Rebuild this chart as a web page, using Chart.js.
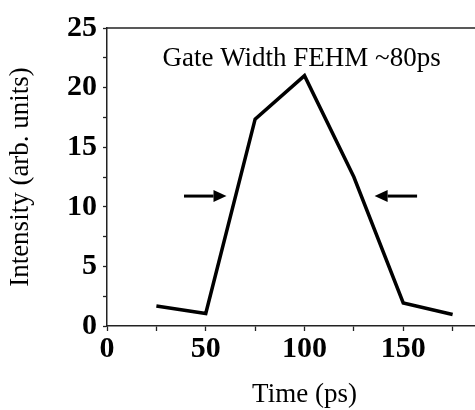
<!DOCTYPE html>
<html>
<head>
<meta charset="utf-8">
<script src="https://cdn.jsdelivr.net/npm/chart.js@4"></script>
<style>
    html, body { margin: 0; padding: 0; background: #fff; overflow: hidden; }
    #wrap { width: 475px; height: 410px; overflow: hidden; }
    #wrap canvas { display: block; }
</style>
</head>
<body>
<div id="wrap"><canvas id="gate" width="510" height="410"></canvas></div>
<script>
    'use strict';

    // pulse samples
    var timePs = [25, 50, 75, 100, 125, 150, 175];
    var intensity = [1.68, 1.05, 17.35, 21.0, 12.5, 1.93, 0.96];

    // axis ticks
    var xTicks = [0, 25, 50, 75, 100, 125, 150, 175, 200];
    var xLabels = [0, 50, 100, 150, 200];
    var yTicks = [0, 2.5, 5, 7.5, 10, 12.5, 15, 17.5, 20, 22.5, 25];
    var yLabels = [0, 5, 10, 15, 20, 25];

    // FWHM markers: [tail, tip] in ps, at this intensity
    var arrowLeft = [39, 60.5];
    var arrowRight = [157, 135.5];
    var arrowLevel = 10.9;

    var noteText = 'Gate Width FEHM ~80ps';
    var notePos = [98.5, 21.8];

    var serif = '"Liberation Serif", "Times New Roman", Times, serif';
    var ink = '#000000';
    var axisInk = '#222222';

    // top frame line, FWHM arrows and the note
    var decorations = {
        id: 'decorations',
        afterDatasetsDraw: function(chart) {
            var ctx = chart.ctx;
            var x = chart.scales.x;
            var y = chart.scales.y;
            var area = chart.chartArea;

            ctx.save();
            ctx.strokeStyle = axisInk;
            ctx.lineWidth = 1.5;
            ctx.beginPath();
            ctx.moveTo(area.left, area.top);
            ctx.lineTo(area.right, area.top);
            ctx.stroke();

            function arrow(from, to) {
                var py = y.getPixelForValue(arrowLevel);
                var x0 = x.getPixelForValue(from);
                var x1 = x.getPixelForValue(to);
                var dir = x1 > x0 ? 1 : -1;
                var head = 13;
                ctx.strokeStyle = ink;
                ctx.fillStyle = ink;
                ctx.lineWidth = 3;
                ctx.beginPath();
                ctx.moveTo(x0, py);
                ctx.lineTo(x1 - dir * head, py);
                ctx.stroke();
                ctx.beginPath();
                ctx.moveTo(x1, py);
                ctx.lineTo(x1 - dir * head, py - 6);
                ctx.lineTo(x1 - dir * head, py + 6);
                ctx.closePath();
                ctx.fill();
            }
            arrow(arrowLeft[0], arrowLeft[1]);
            arrow(arrowRight[0], arrowRight[1]);

            ctx.fillStyle = ink;
            ctx.font = '27px ' + serif;
            ctx.textAlign = 'center';
            ctx.textBaseline = 'alphabetic';
            ctx.fillText(noteText, x.getPixelForValue(notePos[0]), y.getPixelForValue(notePos[1]));
            ctx.restore();
        }
    };

    new Chart(document.getElementById('gate').getContext('2d'), {
        type: 'line',
        data: {
            labels: timePs,
            datasets: [{
                data: timePs.map(function(t, i) { return { x: t, y: intensity[i] }; }),
                borderColor: ink,
                borderWidth: 3.5,
                borderJoinStyle: 'miter',
                pointRadius: 0,
                tension: 0,
                fill: false
            }]
        },
        options: {
            responsive: false,
            animation: false,
            events: [],
            layout: { padding: { top: 28, right: 8, left: 0, bottom: 0 } },
            plugins: {
                legend: { display: false },
                tooltip: { enabled: false }
            },
            scales: {
                x: {
                    type: 'linear',
                    min: 0,
                    max: 200,
                    afterBuildTicks: function(scale) {
                        scale.ticks = xTicks.map(function(v) { return { value: v }; });
                    },
                    afterFit: function(scale) {
                        scale.height = 84;
                        scale.paddingLeft = 0;
                        scale.paddingRight = 0;
                    },
                    border: { display: true, color: axisInk, width: 1.5 },
                    grid: {
                        display: true,
                        drawOnChartArea: false,
                        drawTicks: true,
                        tickLength: 5,
                        tickColor: axisInk,
                        tickWidth: 1.3
                    },
                    ticks: {
                        autoSkip: false,
                        maxRotation: 0,
                        padding: 3,
                        color: ink,
                        font: { family: serif, size: 30, weight: 'bold', lineHeight: 1 },
                        callback: function(v) {
                            return xLabels.indexOf(v) >= 0 ? String(v) : '';
                        }
                    },
                    title: {
                        display: true,
                        text: 'Time (ps)',
                        color: ink,
                        font: { family: serif, size: 27, weight: 'normal', lineHeight: 1.1 },
                        padding: { top: 0, bottom: 0 }
                    }
                },
                y: {
                    type: 'linear',
                    min: 0,
                    max: 25,
                    afterBuildTicks: function(scale) {
                        scale.ticks = yTicks.map(function(v) { return { value: v }; });
                    },
                    afterFit: function(scale) {
                        scale.width = 107;
                        scale.paddingTop = 0;
                        scale.paddingBottom = 0;
                    },
                    border: { display: true, color: axisInk, width: 1.5 },
                    grid: {
                        display: true,
                        drawOnChartArea: false,
                        drawTicks: true,
                        tickLength: 4,
                        tickColor: axisInk,
                        tickWidth: 1.3
                    },
                    ticks: {
                        autoSkip: false,
                        padding: 6,
                        color: ink,
                        font: { family: serif, size: 30, weight: 'bold', lineHeight: 1 },
                        callback: function(v) {
                            return yLabels.indexOf(v) >= 0 ? String(v) : '';
                        }
                    },
                    title: {
                        display: true,
                        text: 'Intensity (arb. units)',
                        color: ink,
                        font: { family: serif, size: 27, weight: 'normal', lineHeight: 1.2 },
                        padding: { top: 5, bottom: 0 }
                    }
                }
            }
        },
        plugins: [decorations]
    });
</script>
</body>
</html>
